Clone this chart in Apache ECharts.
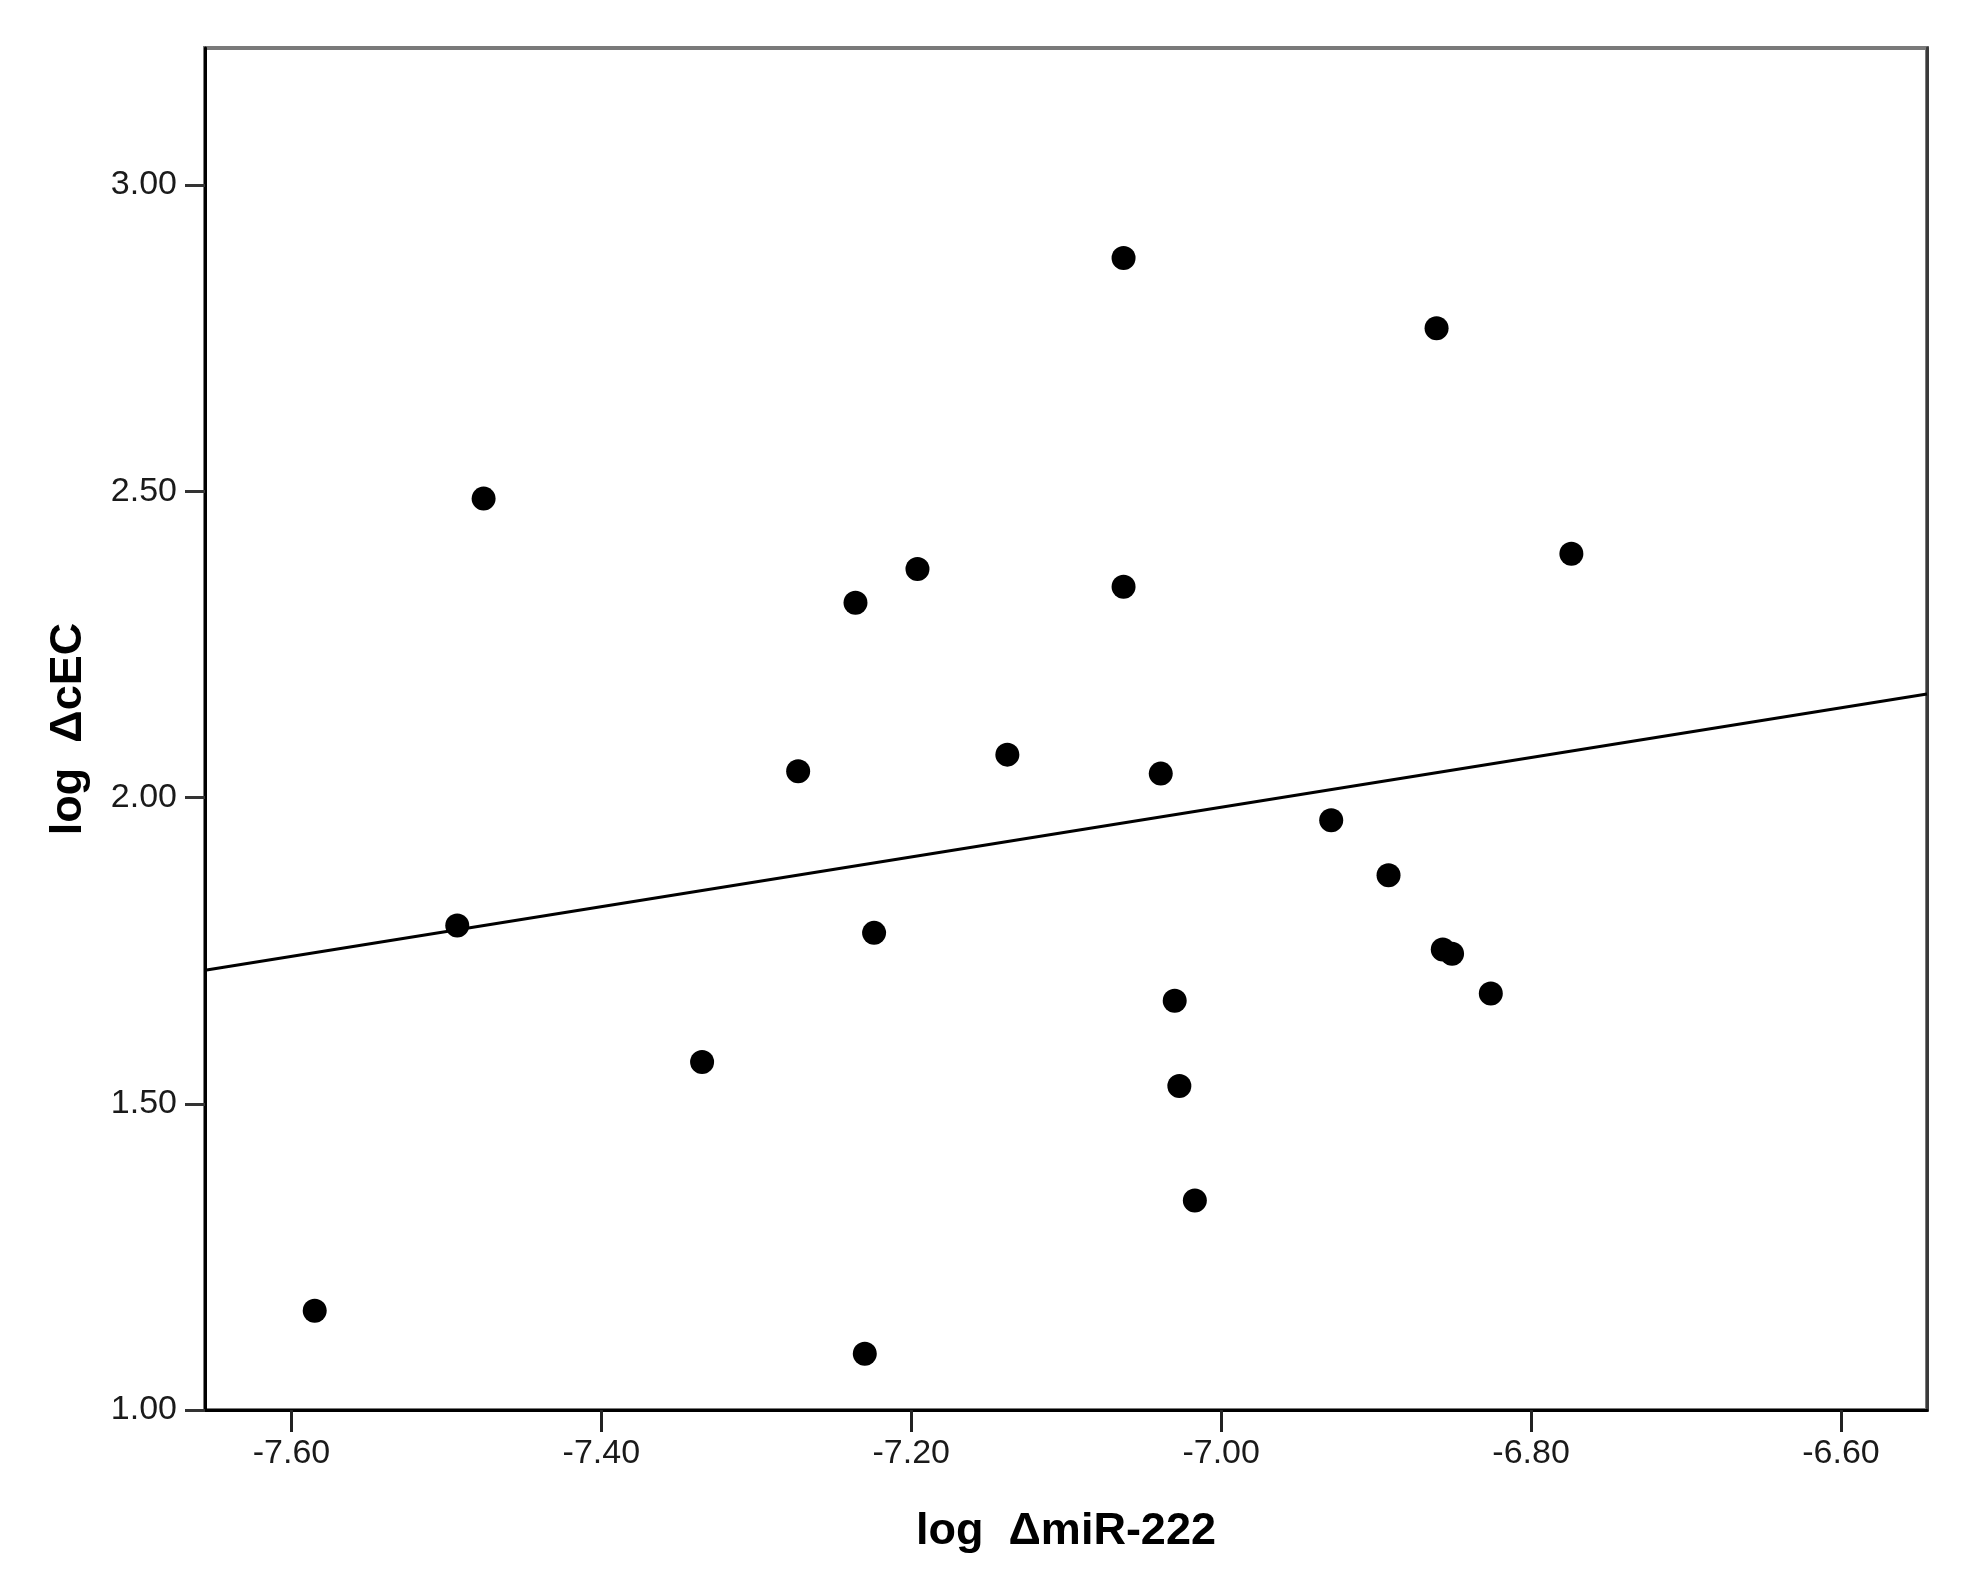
<!DOCTYPE html>
<html>
<head>
<meta charset="utf-8">
<script src="https://cdn.jsdelivr.net/npm/echarts@6.0.0/dist/echarts.min.js"></script>
<style>
  html, body { margin: 0; padding: 0; background: #fff; }
  #chart { width: 1970px; height: 1588px; }
</style>
</head>
<body>
<div id="chart"></div>
<script>
// log ΔmiR-222 (x) and log ΔcEC (y)
const xValues = [-7.063, -6.861, -7.476, -6.774, -7.196, -7.063, -7.236, -7.273, -7.138, -7.039, -6.929, -6.892,
                 -7.493, -7.224, -6.857, -6.851, -6.826, -7.030, -7.335, -7.027, -7.017, -7.585, -7.230]
const yValues = [2.881, 2.766, 2.488, 2.398, 2.373, 2.344, 2.318, 2.043, 2.070, 2.039, 1.963, 1.873,
                 1.791, 1.779, 1.752, 1.745, 1.680, 1.668, 1.568, 1.529, 1.342, 1.162, 1.092]
// fit line end points (at the edges of the plot)
const fitX = [-7.6558, -6.5445]
const fitY = [1.718, 2.169]
// axis ticks
const xTicks = [-7.6, -7.4, -7.2, -7.0, -6.8, -6.6]
const yTicks = [1.0, 1.5, 2.0, 2.5, 3.0]
const xRange = [-7.6558, -6.5445]
const yRange = [1.0, 3.2237]

const font = "'Liberation Sans', Arial, sans-serif"
const chart = echarts.init(document.getElementById('chart'))

const points = xValues.map((x, i) => [x, yValues[i]])
const fit = fitX.map((x, i) => [x, fitY[i]])

const option = {
    animation: false,
    backgroundColor: '#fff',
    textStyle: { fontFamily: font },
    grid: {
        left: 205,
        right: 43,
        top: 48,
        bottom: 178,
        show: true,
        borderColor: '#7a7a7a',
        borderWidth: 4
    },
    xAxis: {
        type: 'value',
        min: xRange[0],
        max: xRange[1],
        name: 'log  ΔmiR-222',
        nameLocation: 'middle',
        nameGap: 99,
        nameTextStyle: { fontFamily: font, fontSize: 45, fontWeight: 'bold', color: '#000' },
        axisLine: { lineStyle: { color: '#000', width: 3 } },
        axisTick: { show: true, length: 22, customValues: xTicks, lineStyle: { color: '#222', width: 3 } },
        axisLabel: {
            customValues: xTicks,
            margin: 27,
            fontFamily: font,
            fontSize: 34,
            color: '#1a1a1a',
            formatter: v => v.toFixed(2)
        },
        splitLine: { show: false }
    },
    yAxis: [{
        type: 'value',
        min: yRange[0],
        max: yRange[1],
        name: 'log  ΔcEC',
        nameLocation: 'middle',
        nameGap: 114,
        nameTextStyle: { fontFamily: font, fontSize: 45, fontWeight: 'bold', color: '#000' },
        axisLine: { show: true, lineStyle: { color: '#000', width: 3 } },
        axisTick: { show: true, length: 20, customValues: yTicks, lineStyle: { color: '#333', width: 3 } },
        axisLabel: {
            customValues: yTicks,
            margin: 28,
            fontFamily: font,
            fontSize: 34,
            color: '#1a1a1a',
            formatter: v => v.toFixed(2)
        },
        splitLine: { show: false }
    }, {
        // right border of the frame
        type: 'value',
        position: 'right',
        min: yRange[0],
        max: yRange[1],
        axisLine: { show: true, lineStyle: { color: '#3a3a3a', width: 3 } },
        axisTick: { show: false },
        axisLabel: { show: false },
        splitLine: { show: false }
    }],
    series: [{
        type: 'line',
        data: fit,
        symbol: 'none',
        lineStyle: { color: '#000', width: 3 },
        z: 2
    }, {
        type: 'scatter',
        data: points,
        symbol: 'circle',
        symbolSize: 24,
        itemStyle: { color: '#000', opacity: 1 },
        z: 3
    }]
}

chart.setOption(option)
</script>
</body>
</html>
